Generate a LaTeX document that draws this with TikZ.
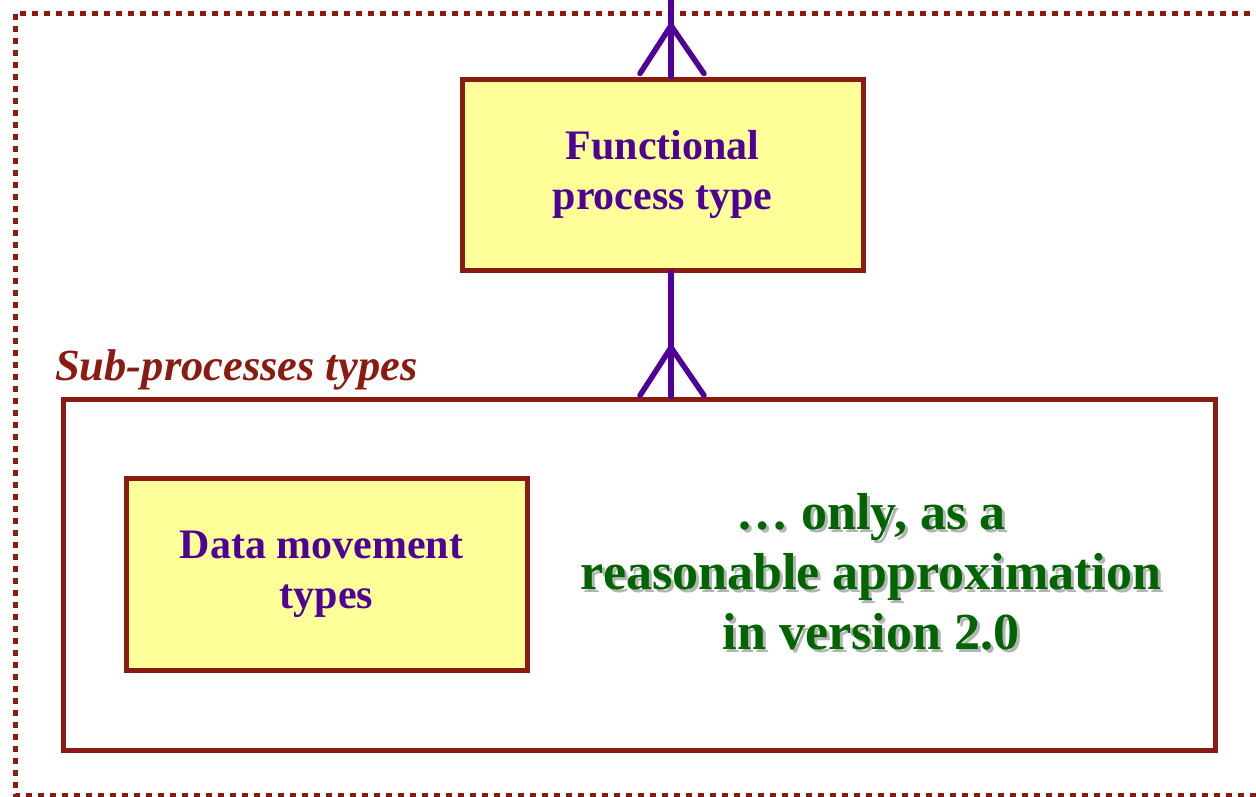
\documentclass[tikz,border=0pt]{standalone}
\usepackage{fontspec}
\setmainfont{Liberation Serif}
\definecolor{frame}{HTML}{8B1A10}
\definecolor{link}{HTML}{4F0096}
\definecolor{boxfill}{HTML}{FFFF99}
\definecolor{notegreen}{HTML}{006400}
\definecolor{noteshade}{HTML}{B4B4B4}
% text with a soft grey drop shadow behind it
\newcommand\shadowtext[1]{\leavevmode\rlap{\kern3pt\raisebox{-3pt}{\textcolor{noteshade}{#1}}}#1}
\tikzset{
  typebox/.style={draw=frame, line width=5pt, fill=boxfill, text=link,
    align=center, font=\bfseries\fontsize{42}{50}\selectfont, inner sep=0pt},
  groupbox/.style={draw=frame, line width=5pt, fill=white},
  link line/.style={draw=link, line width=5.5pt, line cap=round},
  notetext/.style={align=center, inner sep=0pt, text=notegreen,
    font=\bfseries\fontsize{52}{60}\selectfont},
  crowfoot/.pic={
    \draw[link line] (0,0) -- (-31,48);
    \draw[link line] (0,0) -- (33,48);
  }
}
\begin{document}
\begin{tikzpicture}[x=1pt, y=-1pt]
\useasboundingbox (0,0) rectangle (1256,796);
% dotted outer frame, open to the right
\draw[frame, line width=5pt, dash pattern=on 6pt off 6pt]
  (1262,13) -- (15,13) -- (15,795) -- (1262,795);

% boxes
\node[typebox, minimum width=401pt, minimum height=191pt] (fp) at (662.5,174.5)
  {Functional\\process type};
\node[groupbox, minimum width=1152pt, minimum height=351pt] (sub) at (639,574.5) {};
\node[anchor=base west, inner sep=0pt, text=frame,
  font=\bfseries\itshape\fontsize{44.5}{50}\selectfont] (sublabel) at (55,380)
  {Sub-processes types};
\node[typebox, minimum width=401pt, minimum height=192pt] (dm) at (326.5,574)
  {Data movement\kern10pt\\types};

% note
\node[notetext] (note) at (871,573)
  {\shadowtext{\dots\ only, as a}\\
   \shadowtext{reasonable approximation}\\
   \shadowtext{in version 2.0}};

% connectors with crow's feet
\coordinate (top) at (671,0);
\draw[link line] (top) -- (top |- fp.north);
\pic at ([yshift=51pt]top |- fp.north) {crowfoot};
\draw[link line] (top |- fp.south) -- (top |- sub.north);
\pic at ([yshift=49pt]top |- sub.north) {crowfoot};
\end{tikzpicture}
\end{document}
